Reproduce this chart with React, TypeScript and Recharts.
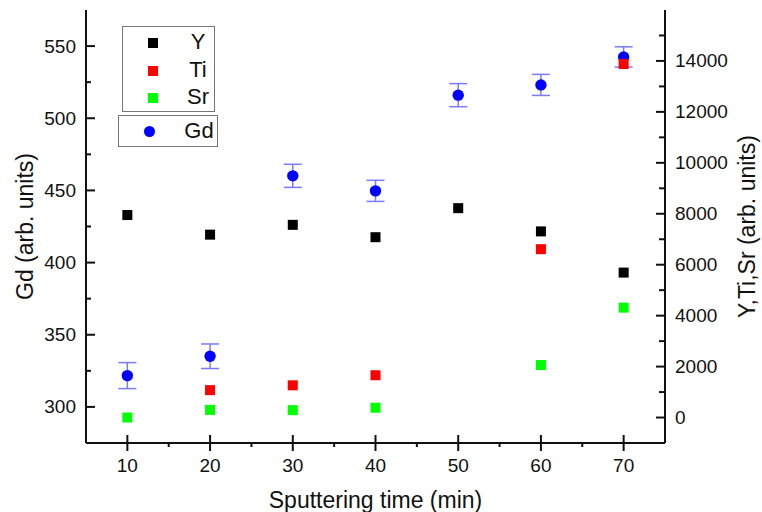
import { ScatterChart, Scatter, XAxis, YAxis, ErrorBar, Legend, Label } from 'recharts';

// sputtering time (min)
const times = [10, 20, 30, 40, 50, 60, 70];
// Gd, left axis
const gdValues = [321.7, 335.1, 460.1, 449.7, 516.0, 523.1, 542.5];
const gdErrors = [9.0, 8.5, 8.0, 7.3, 8.0, 7.3, 7.0];
// Y, Ti, Sr, right axis
const yValues = [7950, 7180, 7565, 7080, 8220, 7308, 5690];
const tiTimes = [20, 30, 40, 60, 70];
const tiValues = [1075, 1265, 1660, 6610, 13880];
const srTimes = [10, 20, 30, 40, 60, 70];
const srValues = [0, 300, 290, 385, 2060, 4315];

const xTicks = [10, 15, 20, 25, 30, 35, 40, 45, 50, 55, 60, 65, 70];
const gdTicks = [300, 325, 350, 375, 400, 425, 450, 475, 500, 525, 550];
const rightTicks = [0, 1000, 2000, 3000, 4000, 5000, 6000, 7000, 8000, 9000, 10000, 11000, 12000, 13000, 14000, 15000];

const FONT = '"Liberation Sans", Arial, sans-serif';
const INK = '#111';

const gdData = times.map((t, i) => ({ t, v: gdValues[i], err: gdErrors[i] }));
const yData = times.map((t, i) => ({ t, v: yValues[i] }));
const tiData = tiTimes.map((t, i) => ({ t, v: tiValues[i] }));
const srData = srTimes.map((t, i) => ({ t, v: srValues[i] }));

const square = (props: any) => {
  const { cx, cy, fill } = props;
  if (cx == null || cy == null) return <g />;
  return <rect x={cx - 5} y={cy - 5} width={10} height={10} fill={fill} />;
};

const dot = (props: any) => {
  const { cx, cy, fill } = props;
  if (cx == null || cy == null) return <g />;
  return <circle cx={cx} cy={cy} r={5.7} fill={fill} />;
};

// bottom axis: majors cross the line, minors point outward
const BottomTick = (props: any) => {
  const { x, y, payload } = props;
  const major = payload.value % 10 === 0;
  return (
    <g>
      <line x1={x} x2={x} y1={major ? y - 8 : y} y2={y + (major ? 8 : 4)} stroke={INK} strokeWidth={2} />
      {major && (
        <text x={x} y={y + 29} textAnchor="middle" fontSize={19} fontFamily={FONT} fill={INK}>
          {payload.value}
        </text>
      )}
    </g>
  );
};

const TopTick = (props: any) => {
  const { x, y, payload } = props;
  const major = payload.value % 10 === 0;
  return <line x1={x} x2={x} y1={y} y2={y + (major ? 6 : 4)} stroke={INK} strokeWidth={2} />;
};

const LeftTick = (props: any) => {
  const { x, y, payload } = props;
  const major = payload.value % 50 === 0;
  return (
    <g>
      <line x1={x} x2={x + (major ? 9 : 5)} y1={y} y2={y} stroke={INK} strokeWidth={2} />
      {major && (
        <text x={x - 10} y={y} textAnchor="end" dominantBaseline="central" fontSize={19} fontFamily={FONT} fill={INK}>
          {payload.value}
        </text>
      )}
    </g>
  );
};

const RightTick = (props: any) => {
  const { x, y, payload } = props;
  const major = payload.value % 2000 === 0;
  return (
    <g>
      <line x1={x} x2={x - (major ? 9 : 6)} y1={y} y2={y} stroke={INK} strokeWidth={2} />
      {major && (
        <text x={x + 10} y={y} textAnchor="start" dominantBaseline="central" fontSize={19} fontFamily={FONT} fill={INK}>
          {payload.value}
        </text>
      )}
    </g>
  );
};

const LegendBoxes = (props: any) => {
  const payload: any[] = props.payload || [];
  const find = (n: string) => payload.find((p) => p.value === n);
  const rows = ['Y', 'Ti', 'Sr'].map((n) => find(n)).filter(Boolean);
  const gd = find('Gd');
  const box: React.CSSProperties = {
    position: 'absolute',
    border: '1px solid #777',
    background: '#fff',
    boxSizing: 'border-box',
    fontFamily: FONT,
    fontSize: 22,
    color: INK,
  };
  return (
    <div style={{ position: 'relative' }}>
      <div style={{ ...box, left: 122, top: 26, width: 93, height: 86 }}>
        {rows.map((r: any, i: number) => (
          <div key={r.value} style={{ position: 'absolute', left: 0, top: 4 + i * 27.6, width: 91, height: 24 }}>
            <span style={{ position: 'absolute', left: 25, top: 7, width: 10, height: 10, background: r.color }} />
            <span style={{ position: 'absolute', left: 58, width: 34, top: -1, textAlign: 'center', lineHeight: '24px' }}>
              {r.value}
            </span>
          </div>
        ))}
      </div>
      {gd && (
        <div style={{ ...box, left: 118, top: 115, width: 100, height: 32 }}>
          <span style={{ position: 'absolute', left: 24.5, top: 9.5, width: 11.4, height: 11.4, borderRadius: '50%', background: gd.color }} />
          <span style={{ position: 'absolute', left: 62, width: 36, top: 2, textAlign: 'center', lineHeight: '26px' }}>
            {gd.value}
          </span>
        </div>
      )}
    </div>
  );
};

export default function App() {
  return (
    <div style={{ position: 'absolute', left: 0, top: 0, width: 762, height: 512, background: '#fff' }}>
      <ScatterChart width={762} height={512} margin={{ top: 10, right: 0, bottom: 0, left: 0 }}>
        <XAxis
          xAxisId="bottom"
          dataKey="t"
          type="number"
          domain={[5, 75]}
          ticks={xTicks}
          interval={0}
          height={69}
          tickSize={0}
          tickMargin={0}
          tickLine={false}
          tick={<BottomTick />}
          axisLine={{ stroke: INK, strokeWidth: 2 }}
        >
          <Label
            content={(p: any) => {
              const vb = p.viewBox;
              return (
                <text x={vb.x + vb.width / 2} y={vb.y + 65} textAnchor="middle" fontSize={23} fontFamily={FONT} fill={INK}>
                  Sputtering time (min)
                </text>
              );
            }}
          />
        </XAxis>
        <XAxis
          xAxisId="top"
          orientation="top"
          dataKey="t"
          type="number"
          domain={[5, 75]}
          ticks={xTicks}
          interval={0}
          height={0}
          tickSize={0}
          tickMargin={0}
          tickLine={false}
          tick={<TopTick />}
          axisLine={{ stroke: INK, strokeWidth: 2 }}
        />
        <YAxis
          yAxisId="gd"
          dataKey="v"
          type="number"
          domain={[275, 575]}
          ticks={gdTicks}
          interval={0}
          width={86}
          tickSize={0}
          tickMargin={0}
          tickLine={false}
          tick={<LeftTick />}
          axisLine={{ stroke: INK, strokeWidth: 2 }}
        >
          <Label
            content={(p: any) => {
              const vb = p.viewBox;
              const cx = 25;
              const cy = vb.y + vb.height / 2;
              return (
                <text x={cx} y={cy} transform={`rotate(-90, ${cx}, ${cy})`} textAnchor="middle" dominantBaseline="central" fontSize={23} fontFamily={FONT} fill={INK}>
                  Gd (arb. units)
                </text>
              );
            }}
          />
        </YAxis>
        <YAxis
          yAxisId="yts"
          orientation="right"
          dataKey="v"
          type="number"
          domain={[-1000, 16000]}
          ticks={rightTicks}
          interval={0}
          width={97}
          tickSize={0}
          tickMargin={0}
          tickLine={false}
          tick={<RightTick />}
          axisLine={{ stroke: INK, strokeWidth: 2 }}
        >
          <Label
            content={(p: any) => {
              const vb = p.viewBox;
              const cx = vb.x + 82;
              const cy = vb.y + vb.height / 2;
              return (
                <text x={cx} y={cy} transform={`rotate(-90, ${cx}, ${cy})`} textAnchor="middle" dominantBaseline="central" fontSize={23} fontFamily={FONT} fill={INK}>
                  Y,Ti,Sr (arb. units)
                </text>
              );
            }}
          />
        </YAxis>
        <Scatter name="Gd" data={gdData} xAxisId="bottom" yAxisId="gd" fill="#0000ff" shape={dot} isAnimationActive={false}>
          <ErrorBar dataKey="err" direction="y" width={9} stroke="#7a7aff" strokeWidth={1.5} isAnimationActive={false} />
        </Scatter>
        <Scatter name="Y" data={yData} xAxisId="bottom" yAxisId="yts" fill="#000000" shape={square} isAnimationActive={false} />
        <Scatter name="Ti" data={tiData} xAxisId="bottom" yAxisId="yts" fill="#ff0000" shape={square} isAnimationActive={false} />
        <Scatter name="Sr" data={srData} xAxisId="bottom" yAxisId="yts" fill="#00ff00" shape={square} isAnimationActive={false} />
        <Legend
          layout="vertical"
          align="center"
          verticalAlign="middle"
          wrapperStyle={{ left: 0, top: 0, width: 0, height: 0 }}
          content={<LegendBoxes />}
        />
      </ScatterChart>
    </div>
  );
}
